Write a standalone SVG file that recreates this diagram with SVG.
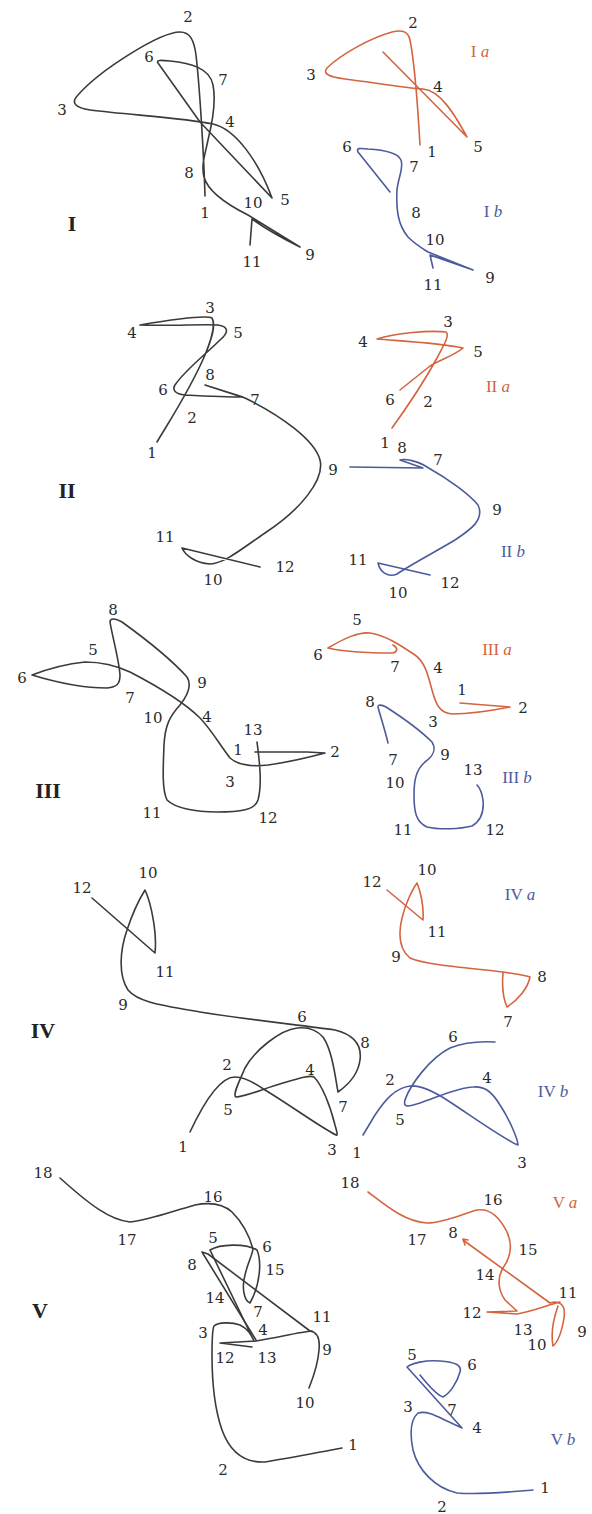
<svg xmlns="http://www.w3.org/2000/svg" width="592" height="1514" viewBox="0 0 592 1514">
<style>
.k{fill:none;stroke:#3a3a3a;stroke-width:1.6;stroke-linejoin:round;stroke-linecap:round}
.r{fill:none;stroke:#d4643f;stroke-width:1.6;stroke-linejoin:round;stroke-linecap:round}
.b{fill:none;stroke:#4b5b9c;stroke-width:1.6;stroke-linejoin:round;stroke-linecap:round}
text{font-family:"DejaVu Serif","Liberation Serif",serif}
.n{font-size:15px;fill:#2a2a2a;text-anchor:middle}
.rn{font-size:22px;font-weight:bold;fill:#222;text-anchor:middle;font-family:"Liberation Serif",serif}
.lr{font-size:17px;fill:#d4643f;text-anchor:middle;font-family:"Liberation Serif",serif}
.lb{font-size:17px;fill:#4b5b9c;text-anchor:middle;font-family:"Liberation Serif",serif}
.i{font-style:italic}
</style>
<rect width="592" height="1514" fill="#fff"/>
<g id="connectors">
<!-- I -->
<path class="k" d="M205,196 C204,160 200,90 196,55 C194,40 190,32 180,32 C160,32 100,70 78,95 C70,103 76,108 90,110 C130,115 185,118 213,124 C235,129 258,160 272,198 L200,122 L158,63 C156,60 160,60 170,61 C190,63 210,68 213,85 C216,100 213,120 208,140 C205,155 201,165 204,177 C208,192 228,205 248,215 L300,247 Q270,232 252,219 L250,245"/>
<path class="r" d="M420,145 C418,110 414,60 410,40 C408,30 400,30 392,32 C370,38 340,55 327,68 C322,74 330,77 345,79 C370,82 405,88 423,89 C440,90 455,115 467,137 L383,52"/>
<path class="b" d="M390,192 L358,152 C356,148 360,148 368,149 C385,150 398,153 401,160 C404,168 398,178 397,190 C396,210 398,225 408,237 C416,245 425,250 428,252 L473,270 L430,255 L433,268"/>
<!-- II -->
<path class="k" d="M157,442 C170,420 190,390 205,355 C212,338 216,325 212,318 C205,315 170,320 140,325 C170,326 205,324 218,325 C230,327 228,333 220,340 C205,355 185,370 175,385 C172,390 175,394 185,395 C205,396 230,397 243,397 L205,385 L245,398 C280,415 315,440 320,460 C325,480 300,510 265,533 C240,550 225,563 210,564 C195,563 185,555 182,548 L260,567"/>
<path class="r" d="M392,428 C405,410 425,380 437,358 C444,345 450,335 446,332 C430,330 395,333 377,339 C400,341 440,343 463,348 C455,355 440,360 430,366 L400,390"/>
<path class="b" d="M350,467 L423,468 L400,460 C405,458 420,462 427,467 C450,480 470,495 478,505 C485,520 470,530 455,540 C435,552 410,565 397,574 C388,578 380,572 378,563 L430,575"/>
<!-- III -->
<path class="k" d="M255,752 L307,752 L325,753 C310,757 290,762 268,765 C250,767 238,765 230,758 C220,745 210,728 200,718 C185,703 155,685 130,672 C115,665 100,662 85,662 C65,664 45,670 32,675 C55,682 85,688 107,688 C117,687 120,684 120,675 C119,660 112,635 110,622 C110,618 115,618 122,622 C140,635 170,658 187,677 C192,685 188,695 180,705 C170,716 165,725 164,745 C163,770 162,790 167,800 C175,808 195,812 217,812 C240,812 255,810 258,800 C262,785 260,765 257,742"/>
<path class="r" d="M460,703 L510,707 C495,710 470,714 452,714 C440,713 436,705 432,690 C428,675 425,662 415,655 C400,645 385,635 370,633 C358,632 345,638 328,648 C345,652 370,653 393,653 C398,651 398,648 393,645"/>
<path class="b" d="M388,743 C385,730 380,715 378,707 C378,704 382,705 386,707 C400,716 420,730 432,742 C437,750 433,756 425,762 C416,770 414,780 414,795 C414,812 416,822 427,827 C440,830 460,829 472,826 C482,820 484,810 483,800 C482,793 480,788 477,785"/>
<!-- IV -->
<path class="k" d="M92,898 L155,953 C157,935 152,905 145,890 C140,898 132,915 127,930 C120,950 118,975 128,990 C138,1002 160,1005 200,1012 C250,1020 300,1025 335,1030 C355,1035 362,1045 360,1060 C358,1075 348,1085 338,1092 C335,1075 332,1050 323,1037 C315,1028 305,1027 297,1028 C280,1030 255,1050 245,1068 C240,1080 232,1095 236,1097 C245,1097 265,1088 283,1083 C300,1078 310,1075 314,1077 C322,1085 330,1105 335,1125 C337,1132 338,1136 336,1135 C320,1127 290,1105 265,1090 C255,1083 245,1077 235,1077 C220,1077 205,1100 190,1132"/>
<path class="r" d="M387,890 L423,920 C424,905 420,890 417,883 C412,890 405,905 402,918 C398,935 400,950 410,958 C425,965 470,968 503,972 C515,974 525,975 530,977 C528,988 518,1000 507,1007 C503,998 502,985 503,973"/>
<path class="b" d="M495,1042 C480,1041 465,1042 450,1048 C430,1058 410,1085 405,1100 C403,1108 408,1107 420,1103 C440,1096 460,1087 473,1087 C485,1086 492,1092 500,1105 C510,1120 518,1140 518,1145 C505,1140 470,1115 450,1102 C435,1092 420,1085 410,1086 C395,1088 385,1100 375,1115 L363,1135"/>
<!-- V -->
<path class="k" d="M342,1448 C320,1452 290,1458 265,1462 C245,1463 230,1452 222,1430 C215,1410 212,1380 212,1355 C212,1340 212,1330 214,1326 C218,1322 232,1322 240,1325 C248,1329 251,1334 254,1341 L210,1250 C220,1244 245,1243 257,1250 C262,1262 260,1285 250,1303 C243,1300 242,1285 245,1275 C248,1262 252,1256 253,1249 C250,1238 245,1225 232,1212 C222,1203 210,1202 195,1205 C170,1212 150,1220 130,1222 C110,1220 90,1205 60,1178"/>
<path class="k" d="M256,1340 L202,1252 L208,1254 L310,1331 C318,1332 320,1340 319,1350 C318,1365 313,1378 309,1388"/>
<path class="k" d="M312,1331 C300,1332 280,1337 256,1341 L220,1343 L252,1347"/>
<path class="r" d="M368,1192 C385,1205 405,1222 427,1223 C445,1223 465,1213 477,1210 C490,1208 500,1218 507,1232 C513,1245 510,1258 503,1268 C497,1278 498,1290 505,1300 L517,1311 L487,1312 L517,1314 C530,1312 545,1306 560,1302"/>
<path class="r" d="M468,1240 L463,1239 L465,1245 M463,1240 L550,1303 C560,1300 566,1305 564,1318 C562,1330 558,1342 553,1346 C551,1335 553,1320 558,1306"/>
<path class="b" d="M533,1490 C510,1492 480,1495 457,1493 C435,1488 418,1470 413,1450 C410,1435 410,1420 418,1413 C428,1410 440,1418 447,1421 L462,1428 L407,1367 C412,1363 425,1360 440,1361 C455,1362 462,1365 460,1372 C457,1383 450,1393 443,1397 C437,1395 428,1385 420,1375"/>
</g>
<g id="fig-I">
<text class="rn" x="72" y="231">I</text>
<text class="n" x="188" y="22">2</text><text class="n" x="149" y="62">6</text><text class="n" x="223" y="85">7</text><text class="n" x="62" y="115">3</text><text class="n" x="230" y="127">4</text><text class="n" x="189" y="178">8</text><text class="n" x="285" y="205">5</text><text class="n" x="205" y="218">1</text><text class="n" x="253" y="208">10</text><text class="n" x="310" y="260">9</text><text class="n" x="252" y="267">11</text>
</g>
<g id="fig-Ia">
<text class="lr" x="480" y="57">I <tspan class="i">a</tspan></text>
<text class="n" x="413" y="28">2</text><text class="n" x="311" y="80">3</text><text class="n" x="438" y="92">4</text><text class="n" x="432" y="157">1</text><text class="n" x="478" y="152">5</text>
</g>
<g id="fig-Ib">
<text class="lb" x="493" y="217">I <tspan class="i">b</tspan></text>
<text class="n" x="347" y="152">6</text><text class="n" x="414" y="172">7</text><text class="n" x="416" y="218">8</text><text class="n" x="435" y="245">10</text><text class="n" x="490" y="283">9</text><text class="n" x="433" y="290">11</text>
</g>
<g id="fig-II">
<text class="rn" x="67" y="498">II</text>
<text class="n" x="210" y="313">3</text><text class="n" x="132" y="338">4</text><text class="n" x="238" y="338">5</text><text class="n" x="210" y="380">8</text><text class="n" x="163" y="395">6</text><text class="n" x="255" y="405">7</text><text class="n" x="192" y="423">2</text><text class="n" x="152" y="458">1</text><text class="n" x="333" y="475">9</text><text class="n" x="165" y="542">11</text><text class="n" x="285" y="572">12</text><text class="n" x="213" y="585">10</text>
</g>
<g id="fig-IIa">
<text class="lr" x="498" y="392">II <tspan class="i">a</tspan></text>
<text class="n" x="448" y="327">3</text><text class="n" x="363" y="347">4</text><text class="n" x="478" y="357">5</text><text class="n" x="390" y="405">6</text><text class="n" x="428" y="407">2</text><text class="n" x="385" y="448">1</text>
</g>
<g id="fig-IIb">
<text class="lb" x="513" y="557">II <tspan class="i">b</tspan></text>
<text class="n" x="402" y="453">8</text><text class="n" x="438" y="465">7</text><text class="n" x="497" y="515">9</text><text class="n" x="358" y="565">11</text><text class="n" x="450" y="588">12</text><text class="n" x="398" y="598">10</text>
</g>
<g id="fig-III">
<text class="rn" x="48" y="798">III</text>
<text class="n" x="113" y="615">8</text><text class="n" x="93" y="655">5</text><text class="n" x="22" y="683">6</text><text class="n" x="202" y="688">9</text><text class="n" x="130" y="703">7</text><text class="n" x="153" y="723">10</text><text class="n" x="207" y="722">4</text><text class="n" x="253" y="735">13</text><text class="n" x="238" y="755">1</text><text class="n" x="335" y="757">2</text><text class="n" x="230" y="787">3</text><text class="n" x="152" y="818">11</text><text class="n" x="268" y="823">12</text>
</g>
<g id="fig-IIIa">
<text class="lr" x="497" y="655">III <tspan class="i">a</tspan></text>
<text class="n" x="357" y="625">5</text><text class="n" x="318" y="660">6</text><text class="n" x="395" y="672">7</text><text class="n" x="438" y="673">4</text><text class="n" x="462" y="695">1</text><text class="n" x="523" y="713">2</text><text class="n" x="433" y="727">3</text>
</g>
<g id="fig-IIIb">
<text class="lb" x="517" y="783">III <tspan class="i">b</tspan></text>
<text class="n" x="370" y="707">8</text><text class="n" x="445" y="760">9</text><text class="n" x="393" y="765">7</text><text class="n" x="473" y="775">13</text><text class="n" x="395" y="788">10</text><text class="n" x="403" y="835">11</text><text class="n" x="495" y="835">12</text>
</g>
<g id="fig-IV">
<text class="rn" x="43" y="1038">IV</text>
<text class="n" x="148" y="878">10</text><text class="n" x="82" y="893">12</text><text class="n" x="165" y="977">11</text><text class="n" x="123" y="1010">9</text><text class="n" x="302" y="1022">6</text><text class="n" x="365" y="1048">8</text><text class="n" x="227" y="1070">2</text><text class="n" x="310" y="1075">4</text><text class="n" x="343" y="1112">7</text><text class="n" x="228" y="1115">5</text><text class="n" x="183" y="1152">1</text><text class="n" x="332" y="1155">3</text>
</g>
<g id="fig-IVa">
<text class="lb" x="520" y="900">IV <tspan class="i">a</tspan></text>
<text class="n" x="427" y="875">10</text><text class="n" x="372" y="887">12</text><text class="n" x="437" y="937">11</text><text class="n" x="396" y="962">9</text><text class="n" x="542" y="982">8</text><text class="n" x="508" y="1027">7</text>
</g>
<g id="fig-IVb">
<text class="lb" x="553" y="1097">IV <tspan class="i">b</tspan></text>
<text class="n" x="453" y="1042">6</text><text class="n" x="487" y="1083">4</text><text class="n" x="390" y="1085">2</text><text class="n" x="400" y="1125">5</text><text class="n" x="357" y="1158">1</text><text class="n" x="522" y="1168">3</text>
</g>
<g id="fig-V">
<text class="rn" x="40" y="1318">V</text>
<text class="n" x="43" y="1178">18</text><text class="n" x="213" y="1202">16</text><text class="n" x="127" y="1245">17</text><text class="n" x="213" y="1243">5</text><text class="n" x="267" y="1252">6</text><text class="n" x="192" y="1270">8</text><text class="n" x="275" y="1275">15</text><text class="n" x="215" y="1303">14</text><text class="n" x="258" y="1317">7</text><text class="n" x="322" y="1322">11</text><text class="n" x="263" y="1335">4</text><text class="n" x="203" y="1338">3</text><text class="n" x="327" y="1355">9</text><text class="n" x="225" y="1363">12</text><text class="n" x="267" y="1363">13</text><text class="n" x="305" y="1408">10</text><text class="n" x="353" y="1450">1</text><text class="n" x="223" y="1475">2</text>
</g>
<g id="fig-Va">
<text class="lr" x="565" y="1208">V <tspan class="i">a</tspan></text>
<text class="n" x="350" y="1188">18</text><text class="n" x="493" y="1205">16</text><text class="n" x="417" y="1245">17</text><text class="n" x="453" y="1238">8</text><text class="n" x="528" y="1255">15</text><text class="n" x="485" y="1280">14</text><text class="n" x="568" y="1298">11</text><text class="n" x="472" y="1318">12</text><text class="n" x="523" y="1335">13</text><text class="n" x="582" y="1337">9</text><text class="n" x="537" y="1350">10</text>
</g>
<g id="fig-Vb">
<text class="lb" x="563" y="1445">V <tspan class="i">b</tspan></text>
<text class="n" x="412" y="1360">5</text><text class="n" x="472" y="1370">6</text><text class="n" x="408" y="1412">3</text><text class="n" x="452" y="1415">7</text><text class="n" x="477" y="1433">4</text><text class="n" x="545" y="1493">1</text><text class="n" x="442" y="1512">2</text>
</g>
</svg>
